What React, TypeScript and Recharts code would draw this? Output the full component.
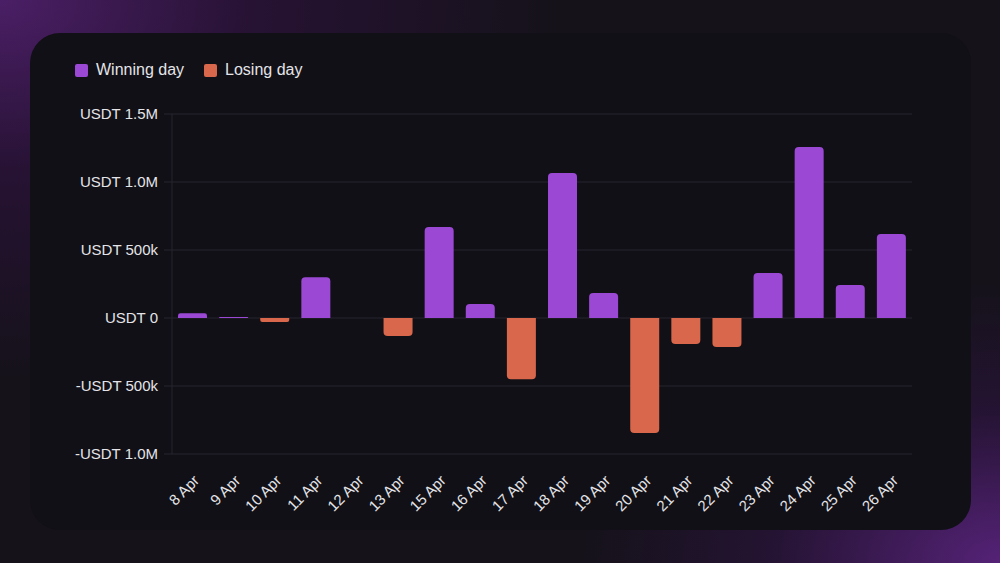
import React from "react";
import {Bar, BarChart, CartesianGrid, XAxis, YAxis} from "recharts";

const days = ["8 Apr", "9 Apr", "10 Apr", "11 Apr", "12 Apr", "13 Apr", "15 Apr", "16 Apr", "17 Apr",
    "18 Apr", "19 Apr", "20 Apr", "21 Apr", "22 Apr", "23 Apr", "24 Apr", "25 Apr", "26 Apr"];
const winning = [35000, 8000, 0, 300000, 0, 0, 670000, 103000, 0, 1066000, 184000, 0, 0, 0, 331000, 1257000, 243000, 618000];
const losing = [0, 0, -30000, 0, 0, -132000, 0, 0, -450000, 0, 0, -846000, -191000, -213000, 0, 0, 0, 0];
const yTicks = [-1000000, -500000, 0, 500000, 1000000, 1500000];

const data = days.map((day, i) => ({day, win: winning[i], loss: losing[i]}));

const WIN = "#9b48d4";
const LOSS = "#d8674b";
const GRID = "#26252e";
const TEXT = "#e4e4e8";
const FONT = "'Liberation Sans', Arial, sans-serif";

function formatUsdt(v: number) {
    const a = Math.abs(v);
    const sign = v < 0 ? "-" : "";
    if (a >= 1000000) return `${sign}USDT ${(a / 1000000).toFixed(1)}M`;
    if (a >= 1000) return `${sign}USDT ${a / 1000}k`;
    return `${sign}USDT ${a}`;
}

function LegendBox() {
    const item = (color: string, label: string) => (
        <div style={{display: "flex", alignItems: "center", marginRight: 20}}>
            <div style={{width: 13, height: 13, borderRadius: 2, background: color, marginRight: 8}} />
            <span style={{color: TEXT, fontSize: 16}}>{label}</span>
        </div>
    );
    return (
        <div style={{position: "absolute", left: 75, top: 61, display: "flex", fontFamily: FONT}}>
            {item(WIN, "Winning day")}
            {item(LOSS, "Losing day")}
        </div>
    );
}

export default function App() {
    return (
        <div style={{
            position: "absolute", left: 0, top: 0, width: 1000, height: 563, overflow: "hidden",
            background: "radial-gradient(ellipse 560px 380px at 0% 0%, #4b1f66 0%, rgba(46,18,62,0.7) 45%, rgba(20,14,24,0) 100%)," +
                "radial-gradient(ellipse 420px 280px at 100% 100%, #552277 0%, rgba(46,20,66,0.6) 55%, rgba(20,14,24,0) 100%)," +
                "#15121a",
            fontFamily: FONT,
        }}>
            <div style={{
                position: "absolute", left: 30, top: 33, width: 941, height: 497,
                borderRadius: 30, background: "#111016",
            }} />
            <LegendBox />
            <div style={{position: "absolute", left: 0, top: 0}}>
                <BarChart width={1000} height={563} data={data} stackOffset="sign"
                          margin={{top: 114, right: 88, left: 76, bottom: 39}} barSize={29}>
                    <CartesianGrid stroke={GRID} vertical={false} />
                    <YAxis domain={[-1000000, 1500000]} ticks={yTicks} tickFormatter={formatUsdt}
                           width={96} axisLine={{stroke: GRID}} tickLine={{stroke: GRID}} tickSize={8}
                           tick={{fill: TEXT, fontSize: 15, fontFamily: FONT}} tickMargin={6} />
                    <XAxis dataKey="day" interval={0} angle={-45} textAnchor="end" height={70}
                           axisLine={false} tickLine={false} tickMargin={14}
                           tick={{fill: TEXT, fontSize: 15, fontFamily: FONT}} />
                    <Bar dataKey="win" name="Winning day" stackId="a" fill={WIN} radius={[4, 4, 0, 0]}
                         isAnimationActive={false} />
                    <Bar dataKey="loss" name="Losing day" stackId="a" fill={LOSS} radius={[4, 4, 0, 0]}
                         isAnimationActive={false} />
                </BarChart>
            </div>
        </div>
    );
}
